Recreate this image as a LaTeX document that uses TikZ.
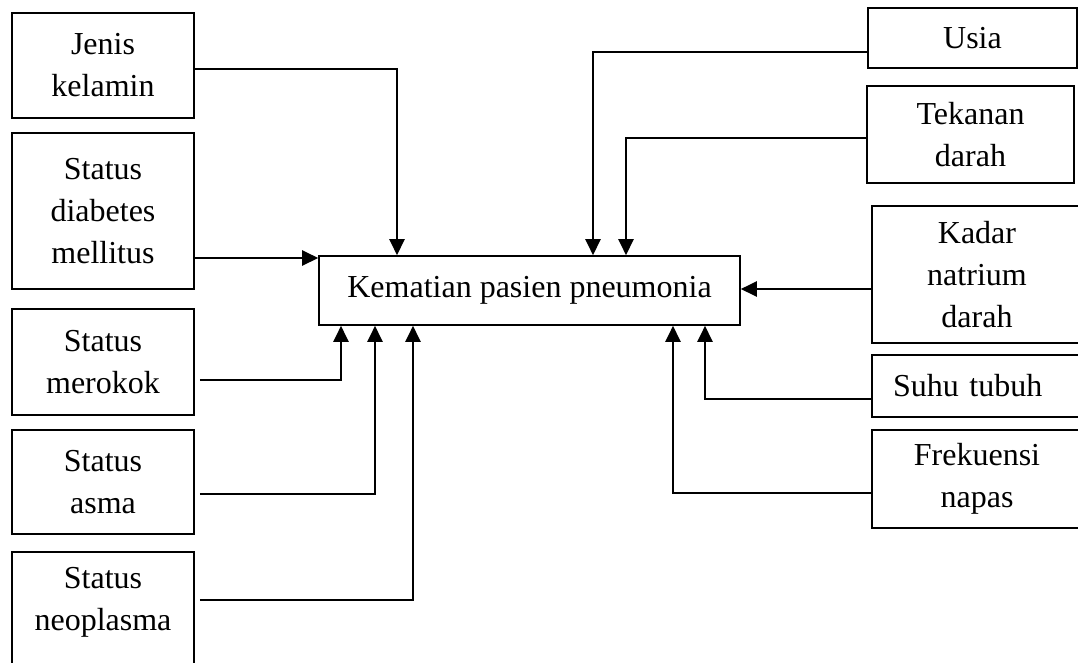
\documentclass[tikz,border=0pt]{standalone}
\usepackage{fontspec}
\setmainfont{Liberation Serif}
\usetikzlibrary{arrows.meta,calc}
\begin{document}
\begin{tikzpicture}[x=1pt,y=-1pt,
  txt/.style={font=\fontsize{32}{42}\selectfont, align=center},
  box/.style={draw, line width=1.6pt, rectangle, inner sep=0pt, txt},
  conn/.style={line width=2.4pt, -{Triangle[length=16pt,width=15pt]}}]
\useasboundingbox (0,0) rectangle (1078,662);
\clip (0,0) rectangle (1078,662);
% central node
\node[box, minimum width=421pt, minimum height=69pt] (main) at (529.5,290.5) {Kematian pasien pneumonia};
% left boxes
\node[box, minimum width=182pt, minimum height=105pt] (jenis) at (103,65.5) {Jenis\\kelamin};
\node[box, minimum width=182pt, minimum height=156pt] (diab) at (103,211) {Status\\diabetes\\mellitus};
\node[box, minimum width=182pt, minimum height=106pt] (mer) at (103,362) {Status\\merokok};
\node[box, minimum width=182pt, minimum height=104pt] (asma) at (103,482) {Status\\asma};
\node[box, minimum width=182pt, minimum height=130pt, anchor=north] (neo) at (103,551) {};
\node[txt] (neotext) at (103,602) {Status\\neoplasma};
% right boxes
\node[box, minimum width=209pt, minimum height=60pt] (usia) at (972.5,38) {Usia};
\node[box, minimum width=207pt, minimum height=97pt] (tek) at (970.5,134.5) {Tekanan\\darah};
\node[box, minimum width=210pt, minimum height=137pt] (kadar) at (977,274.5) {Kadar\\natrium\\darah};
\node[box, minimum width=210pt, minimum height=62pt, text width=168pt, align=left, inner xsep=21pt] (suhu) at (977,386) {Suhu tubuh};
\node[box, minimum width=210pt, minimum height=98pt] (frek) at (977,479) {Frekuensi\\napas};
% connector start points
\coordinate (j1) at ([yshift=-3.5pt]jenis.east);
\coordinate (d1) at ([yshift=-47pt]diab.east);
\coordinate (m1) at ([xshift=5pt,yshift=-18pt]mer.east);
\coordinate (a1) at ([xshift=5pt,yshift=-12pt]asma.east);
\coordinate (n1) at ([xshift=5pt,yshift=17pt]neo.east);
\coordinate (u1) at ([yshift=-14pt]usia.west);
\coordinate (t1) at ([yshift=-3.5pt]tek.west);
\coordinate (k1) at ([yshift=-14.5pt]kadar.west);
\coordinate (s1) at ([yshift=-13pt]suhu.west);
\coordinate (f1) at ([yshift=-14pt]frek.west);
% connectors
\draw[conn] (j1) -| ([xshift=-132.5pt]main.north);
\draw[conn] (d1) -- (d1 -| main.west);
\draw[conn] (m1) -| ([xshift=-188.5pt]main.south);
\draw[conn] (a1) -| ([xshift=-154.5pt]main.south);
\draw[conn] (n1) -| ([xshift=-116.5pt]main.south);
\draw[conn] (u1) -| ([xshift=63.5pt]main.north);
\draw[conn] (t1) -| ([xshift=96.5pt]main.north);
\draw[conn] (k1) -- (k1 -| main.east);
\draw[conn] (s1) -| ([xshift=175.5pt]main.south);
\draw[conn] (f1) -| ([xshift=143.5pt]main.south);
\end{tikzpicture}
\end{document}
